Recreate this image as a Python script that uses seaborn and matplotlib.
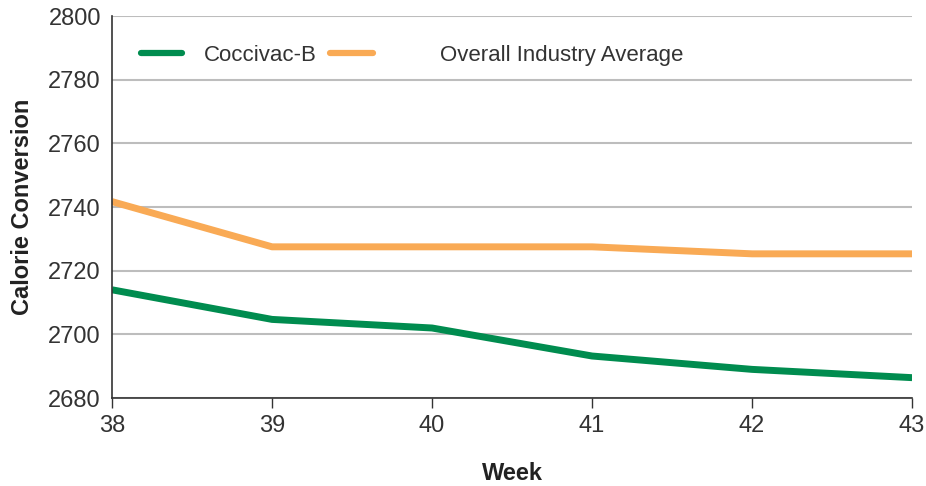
import matplotlib
matplotlib.use("Agg")
import matplotlib.pyplot as plt
import matplotlib.font_manager as fm
from matplotlib.lines import Line2D
import seaborn as sns
import pandas as pd

weeks = [38, 39, 40, 41, 42, 43]
coccivac_b = [2714, 2704.7, 2702, 2693.2, 2689, 2686.4]
industry_avg = [2741.7, 2727.5, 2727.5, 2727.5, 2725.3, 2725.3]
series_names = ["Coccivac-B", "Overall Industry Average"]
y_ticks = [2680, 2700, 2720, 2740, 2760, 2780, 2800]

sns.set_theme(style="white")
names = {f.name for f in fm.fontManager.ttflist}
family = "Liberation Sans Narrow" if "Liberation Sans Narrow" in names else "Liberation Sans"
plt.rcParams["font.family"] = [family, "DejaVu Sans"]

df = pd.DataFrame({
    "Week": weeks * 2,
    "Calorie Conversion": coccivac_b + industry_avg,
    "Series": [series_names[0]] * len(weeks) + [series_names[1]] * len(weeks),
})

fig, ax = plt.subplots(figsize=(9.26, 4.86), dpi=100)
fig.subplots_adjust(left=0.121, right=0.985, top=0.967, bottom=0.181)

palette = {series_names[0]: "#008C4F", series_names[1]: "#F9AA55"}
sns.lineplot(data=df, x="Week", y="Calorie Conversion", hue="Series",
             palette=palette, linewidth=5, ax=ax, legend=False,
             solid_capstyle="butt")

ax.set_xlim(38, 43)
ax.set_ylim(2680, 2800)
ax.set_xticks(weeks)
ax.set_yticks(y_ticks)
ax.yaxis.grid(True, color="#BDBDBD", linewidth=1.5)
ax.set_axisbelow(True)

for s in ["top", "right"]:
    ax.spines[s].set_visible(False)
for s in ["left", "bottom"]:
    ax.spines[s].set_color("#333333")
    ax.spines[s].set_linewidth(1.2)

ax.tick_params(axis="x", direction="out", length=7, width=1, color="#333333",
               labelsize=17, labelcolor="#333333", pad=5, bottom=True)
ax.tick_params(axis="y", length=0, labelsize=17, labelcolor="#333333", pad=8)

ax.set_xlabel("Week", fontsize=17, fontweight="bold", color="#222222", labelpad=18)
ax.set_ylabel("Calorie Conversion", fontsize=17, fontweight="bold", color="#222222", labelpad=10)

# two legend entries placed side by side along the top of the plot
common = dict(loc="center left", frameon=False, fontsize=16, borderpad=0,
              borderaxespad=0, labelcolor="#333333")
leg1 = ax.legend([Line2D([], [], color=palette[series_names[0]], linewidth=4.5)],
                 [series_names[0]], bbox_to_anchor=(0.036, 0.897),
                 handlelength=1.85, handletextpad=1.0, **common)
ax.add_artist(leg1)
ax.legend([Line2D([], [], color=palette[series_names[1]], linewidth=4.5)],
          [series_names[1]], bbox_to_anchor=(0.272, 0.897),
          handlelength=1.95, handletextpad=3.0, **common)

fig.savefig("out.png", dpi=100)
